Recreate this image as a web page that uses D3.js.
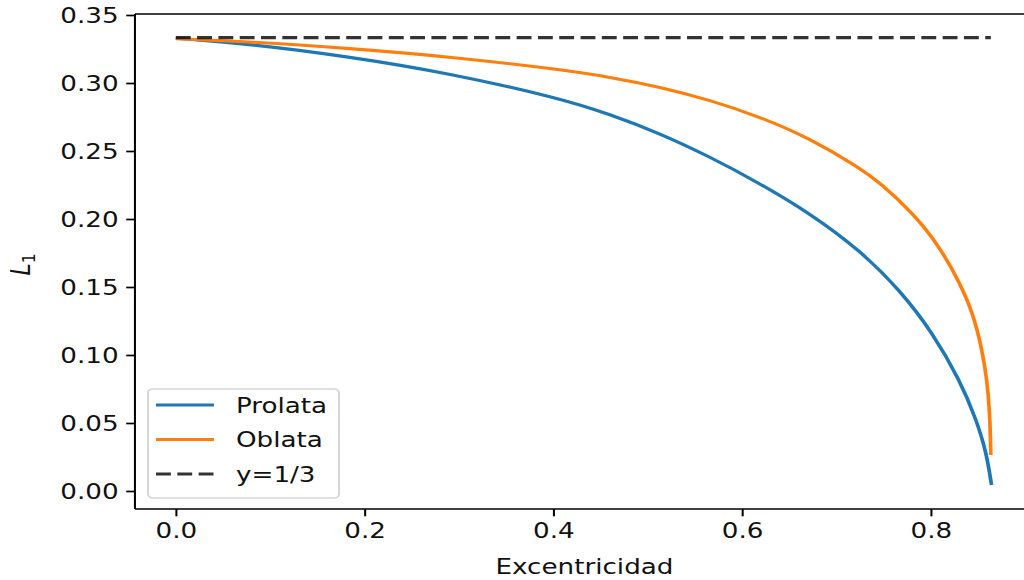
<!DOCTYPE html>
<html>
<head>
<meta charset="utf-8">
<script src="https://cdn.jsdelivr.net/npm/d3@7"></script>
<style>
  html, body { margin: 0; padding: 0; background: #fff; }
  svg { display: block; }
  text { font-family: "DejaVu Sans", sans-serif; fill: #111; }
</style>
</head>
<body>
<svg id="chart" width="1024" height="580"></svg>
<script>
// ---- data ----
const prolataX = [0, 0.0784, 0.1844, 0.2903, 0.4069, 0.4599, 0.5128, 0.5658, 0.6188, 0.6718, 0.7248, 0.7672, 0.8021, 0.8307, 0.8484, 0.8590, 0.8643];
const prolataY = [0.3329, 0.3287, 0.3193, 0.3071, 0.2888, 0.2770, 0.2630, 0.2458, 0.2262, 0.2042, 0.1771, 0.1478, 0.1162, 0.0816, 0.0522, 0.0279, 0.0044];
const oblataX  = [0, 0.0784, 0.1844, 0.2903, 0.4069, 0.4599, 0.5128, 0.5658, 0.6188, 0.6718, 0.7248, 0.7459, 0.7810, 0.8095, 0.8307, 0.8445, 0.8537, 0.8596, 0.8625, 0.8636];
const oblataY  = [0.3325, 0.3304, 0.3255, 0.3193, 0.3100, 0.3044, 0.2971, 0.2875, 0.2752, 0.2593, 0.2375, 0.2268, 0.2044, 0.1796, 0.1530, 0.1309, 0.1061, 0.0816, 0.0574, 0.0265];
const refX = [0, 0.8636];
const refY = [1/3, 1/3];
const seriesNames = ["Prolata", "Oblata", "y=1/3"];
const xTicks = [0.0, 0.2, 0.4, 0.6, 0.8];
const yTicks = [0.00, 0.05, 0.10, 0.15, 0.20, 0.25, 0.30, 0.35];
const xLabel = "Excentricidad";

// ---- layout (inner coords, whole figure stretched horizontally) ----
const SX = 1.19;
const svg = d3.select("#chart");
const g = svg.append("g").attr("transform", `scale(${SX},1)`);
const L = 113.4, R = 868.9, T = 14, B = 509;
const x = d3.scaleLinear().domain([-0.0433, 0.9093]).range([L, R]);
const y = d3.scaleLinear().domain([-0.01324, 0.35074]).range([B, T]);

const FS = 22;

// series
const line = d3.line().x(d => x(d[0])).y(d => y(d[1])).curve(d3.curveBasis);
const prolata = prolataX.map((v, i) => [v, prolataY[i]]);
const oblata = oblataX.map((v, i) => [v, oblataY[i]]);
const ref = refX.map((v, i) => [v, refY[i]]);

const plot = g.append("g");
plot.append("path").datum(prolata).attr("d", line)
  .attr("fill", "none").attr("stroke", "#1f77b4").attr("stroke-width", 3.1);
plot.append("path").datum(oblata).attr("d", line)
  .attr("fill", "none").attr("stroke", "#ff7f0e").attr("stroke-width", 3.1);
plot.append("path").datum(ref).attr("d", d3.line().x(d => x(d[0])).y(d => y(d[1])))
  .attr("fill", "none").attr("stroke", "#000").attr("stroke-opacity", 0.8)
  .attr("stroke-width", 3.1).attr("stroke-dasharray", "12.5,5.4");

// axes
const xAxis = d3.axisBottom(x).tickValues(xTicks).tickFormat(d3.format(".1f")).tickSize(7.3).tickPadding(6.5);
const yAxis = d3.axisLeft(y).tickValues(yTicks).tickFormat(d3.format(".2f")).tickSize(7.3).tickPadding(6.5);

const gx = g.append("g").attr("transform", `translate(0,${B})`).call(xAxis);
const gy = g.append("g").attr("transform", `translate(${L},0)`).call(yAxis);
[gx, gy].forEach(a => {
  a.select(".domain").remove();
  a.selectAll(".tick line").attr("stroke", "#000").attr("stroke-width", 1.7);
  a.selectAll(".tick text").attr("font-size", FS).attr("font-family", "DejaVu Sans").attr("fill", "#111");
});
gx.selectAll(".tick text").attr("dy", "0.71em");
gy.selectAll(".tick text").attr("dy", "0.36em");

// spines
const sp = g.append("g").attr("stroke", "#000").attr("stroke-width", 1.7).attr("fill", "none");
sp.append("line").attr("x1", L).attr("x2", L).attr("y1", T).attr("y2", B);
sp.append("line").attr("x1", R).attr("x2", R).attr("y1", T).attr("y2", B);
sp.append("line").attr("x1", L).attr("x2", R).attr("y1", T).attr("y2", T);
sp.append("line").attr("x1", L).attr("x2", R).attr("y1", B).attr("y2", B);

// axis labels
g.append("text").attr("x", (L + R) / 2).attr("y", 574).attr("text-anchor", "middle")
  .attr("font-size", FS).text(xLabel);
const yl = g.append("text").attr("transform", `translate(25,${(T + B) / 2 + 3}) rotate(-90)`)
  .attr("text-anchor", "middle").attr("font-size", FS);
yl.append("tspan").attr("font-style", "italic").text("L");
yl.append("tspan").attr("font-size", FS * 0.7).attr("dy", 4).text("1");

// legend
const lg = g.append("g");
lg.append("rect").attr("x", 124.4).attr("y", 389).attr("width", 160.5).attr("height", 109)
  .attr("rx", 4).attr("ry", 4).attr("fill", "#fff").attr("fill-opacity", 0.8)
  .attr("stroke", "#d6d6d6").attr("stroke-width", 1.7);
const items = [
  { name: seriesNames[0], color: "#1f77b4", dash: null, op: 1 },
  { name: seriesNames[1], color: "#ff7f0e", dash: null, op: 1 },
  { name: seriesNames[2], color: "#000", dash: "12.5,5.4", op: 0.8 }
];
items.forEach((it, i) => {
  const yy = 405 + i * 34.5;
  const l = lg.append("line").attr("x1", 131.1).attr("x2", 179.8).attr("y1", yy).attr("y2", yy)
    .attr("stroke", it.color).attr("stroke-width", 3.1).attr("stroke-opacity", it.op);
  if (it.dash) l.attr("stroke-dasharray", it.dash);
  lg.append("text").attr("x", 198.3).attr("y", yy).attr("dy", "0.36em")
    .attr("font-size", FS).text(it.name);
});
</script>
</body>
</html>
